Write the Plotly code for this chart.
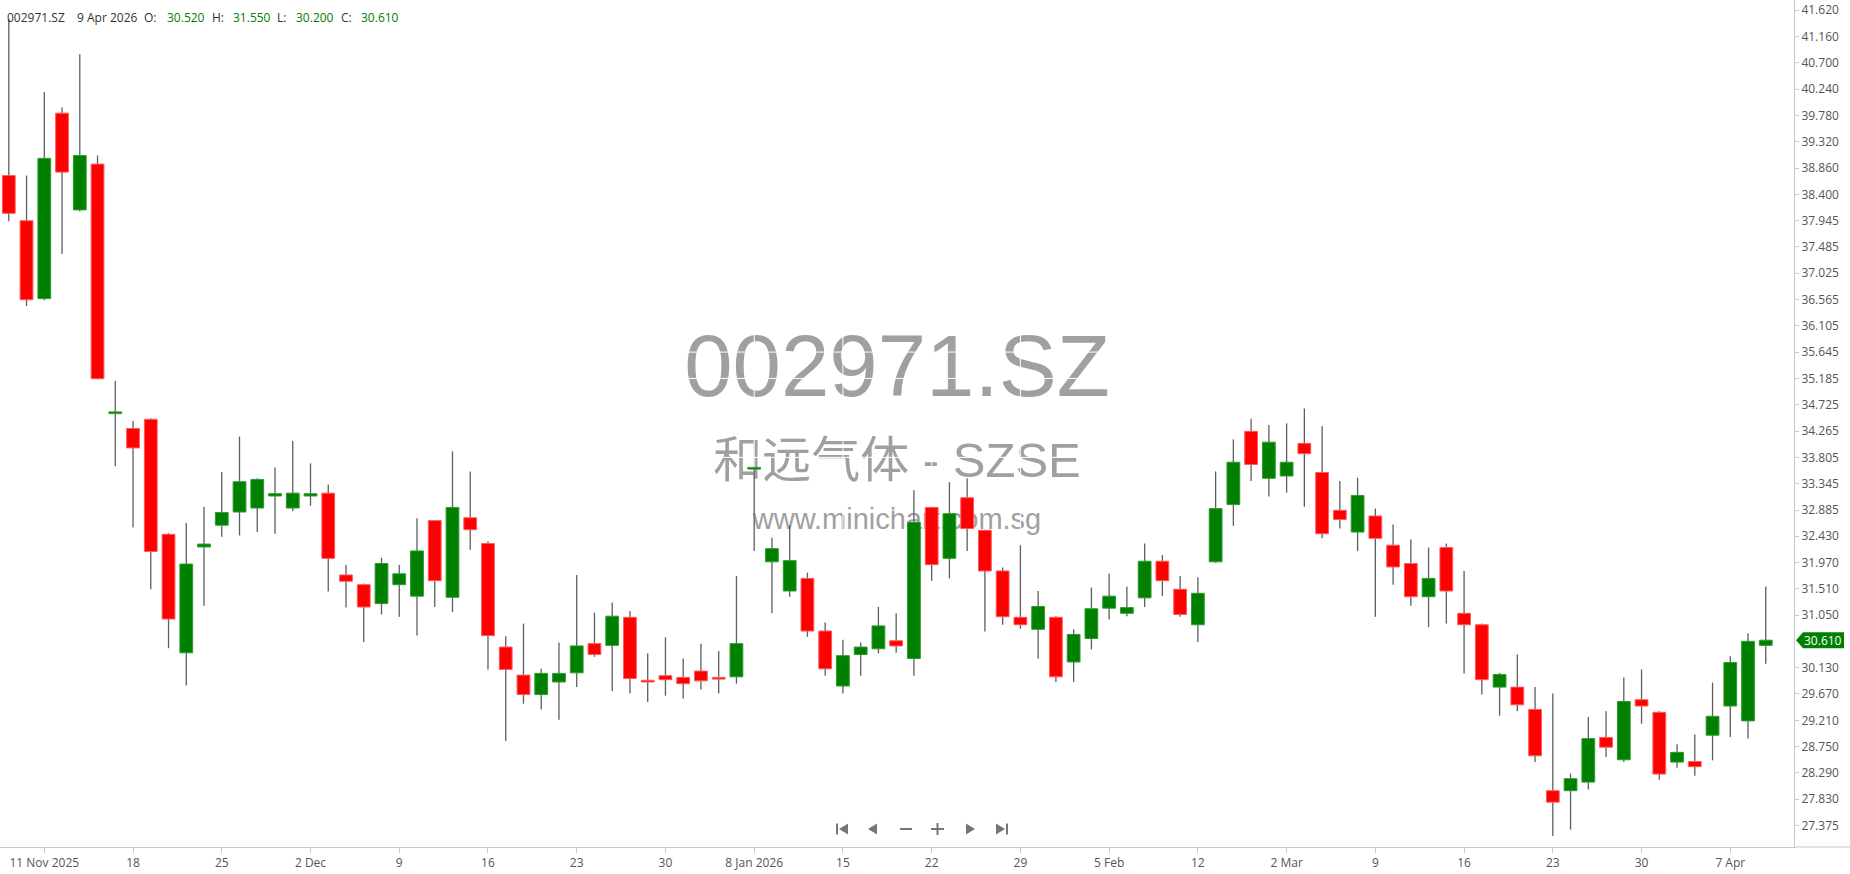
import plotly.graph_objects as go
import datetime as dt

# ---------------- data ----------------
dates = [
    "2025-11-07", "2025-11-10", "2025-11-11", "2025-11-12", "2025-11-13", "2025-11-14",
    "2025-11-17", "2025-11-18", "2025-11-19", "2025-11-20", "2025-11-21", "2025-11-24",
    "2025-11-25", "2025-11-26", "2025-11-27", "2025-11-28", "2025-12-01", "2025-12-02",
    "2025-12-03", "2025-12-04", "2025-12-05", "2025-12-08", "2025-12-09", "2025-12-10",
    "2025-12-11", "2025-12-12", "2025-12-15", "2025-12-16", "2025-12-17", "2025-12-18",
    "2025-12-19", "2025-12-22", "2025-12-23", "2025-12-24", "2025-12-25", "2025-12-26",
    "2025-12-29", "2025-12-30", "2025-12-31", "2026-01-05", "2026-01-06", "2026-01-07",
    "2026-01-08", "2026-01-09", "2026-01-12", "2026-01-13", "2026-01-14", "2026-01-15",
    "2026-01-16", "2026-01-19", "2026-01-20", "2026-01-21", "2026-01-22", "2026-01-23",
    "2026-01-26", "2026-01-27", "2026-01-28", "2026-01-29", "2026-01-30", "2026-02-02",
    "2026-02-03", "2026-02-04", "2026-02-05", "2026-02-06", "2026-02-09", "2026-02-10",
    "2026-02-11", "2026-02-12", "2026-02-13", "2026-02-25", "2026-02-26", "2026-02-27",
    "2026-03-02", "2026-03-03", "2026-03-04", "2026-03-05", "2026-03-06", "2026-03-09",
    "2026-03-10", "2026-03-11", "2026-03-12", "2026-03-13", "2026-03-16", "2026-03-17",
    "2026-03-18", "2026-03-19", "2026-03-20", "2026-03-23", "2026-03-24", "2026-03-25",
    "2026-03-26", "2026-03-27", "2026-03-30", "2026-03-31", "2026-04-01", "2026-04-02",
    "2026-04-03", "2026-04-07", "2026-04-08", "2026-04-09",
]

opens = [
    38.73, 37.94, 36.58, 39.82, 38.13, 38.93, 34.57, 34.31, 34.47, 32.46,
    30.39, 32.24, 32.62, 32.85, 32.92, 33.13, 32.92, 33.13, 33.18, 31.75,
    31.58, 31.25, 31.58, 31.38, 32.70, 31.36, 32.75, 32.30, 30.49, 30.00,
    29.66, 29.88, 30.04, 30.55, 30.52, 31.01, 29.91, 29.99, 29.96, 30.07,
    29.96, 29.97, 33.60, 31.98, 31.47, 31.69, 30.77, 29.81, 30.36, 30.46,
    30.60, 30.29, 32.93, 32.04, 33.10, 32.53, 31.82, 31.01, 30.80, 31.01,
    30.23, 30.64, 31.17, 31.08, 31.35, 31.99, 31.50, 30.88, 31.98, 32.98,
    34.26, 33.44, 33.48, 34.05, 33.54, 32.88, 32.50, 32.78, 32.27, 31.95,
    31.37, 32.23, 31.08, 30.88, 29.79, 29.79, 29.40, 27.98, 27.98, 28.13,
    28.91, 28.52, 29.57, 29.35, 28.48, 28.49, 28.95, 29.46, 29.20, 30.52,
]
highs = [
    41.47, 38.73, 40.19, 39.92, 40.85, 39.08, 35.14, 34.44, 34.49, 32.48,
    32.66, 32.94, 33.55, 34.17, 33.44, 33.63, 34.09, 33.70, 33.33, 31.93,
    31.60, 32.05, 31.93, 32.74, 32.71, 33.91, 33.56, 32.34, 30.68, 30.90,
    30.11, 30.57, 31.75, 31.09, 31.27, 31.12, 30.38, 30.66, 30.29, 30.55,
    30.42, 31.73, 33.63, 32.40, 32.62, 31.79, 30.92, 30.62, 30.57, 31.19,
    31.08, 33.23, 32.94, 33.37, 33.44, 32.54, 31.88, 32.27, 31.47, 31.03,
    30.80, 31.53, 31.77, 31.55, 32.30, 32.10, 31.73, 31.71, 33.56, 34.12,
    34.48, 34.37, 34.40, 34.66, 34.35, 33.39, 33.45, 32.91, 32.63, 32.37,
    32.23, 32.30, 31.82, 30.90, 30.04, 30.36, 29.79, 29.68, 28.28, 29.27,
    29.37, 29.96, 30.10, 29.37, 28.79, 28.96, 29.87, 30.33, 30.73, 31.55,
]
lows = [
    37.93, 36.45, 36.55, 37.36, 38.10, 35.17, 33.65, 32.58, 31.50, 30.47,
    29.82, 31.21, 32.42, 32.44, 32.50, 32.47, 32.87, 32.96, 31.46, 31.18,
    30.58, 31.06, 31.02, 30.69, 31.19, 31.10, 32.19, 30.10, 28.85, 29.50,
    29.40, 29.22, 29.79, 30.32, 29.72, 29.68, 29.53, 29.64, 29.59, 29.75,
    29.68, 29.85, 32.17, 31.08, 31.37, 30.67, 29.99, 29.68, 29.99, 30.38,
    30.39, 29.99, 31.65, 31.69, 32.17, 30.76, 30.88, 30.81, 30.29, 29.88,
    29.88, 30.45, 30.97, 31.03, 31.19, 31.38, 31.02, 30.58, 31.96, 32.61,
    33.39, 33.12, 33.19, 32.94, 32.39, 32.56, 32.17, 31.02, 31.58, 31.21,
    30.84, 30.90, 30.03, 29.66, 29.29, 29.37, 28.48, 27.19, 27.30, 28.00,
    28.57, 28.48, 29.15, 28.17, 28.38, 28.24, 28.51, 28.92, 28.89, 30.20,
]
closes = [
    38.07, 36.56, 39.03, 38.79, 39.08, 35.18, 34.60, 33.97, 32.16, 30.98,
    31.94, 32.29, 32.84, 33.38, 33.42, 33.17, 33.18, 33.17, 32.04, 31.64,
    31.19, 31.95, 31.77, 32.17, 31.65, 32.93, 32.54, 30.69, 30.10, 29.66,
    30.03, 30.03, 30.51, 30.36, 31.03, 29.94, 29.88, 29.92, 29.85, 29.90,
    29.93, 30.55, 33.63, 32.21, 32.00, 30.77, 30.11, 30.34, 30.49, 30.86,
    30.51, 32.67, 31.93, 32.82, 32.56, 31.82, 31.02, 30.88, 31.20, 29.97,
    30.71, 31.16, 31.38, 31.18, 31.99, 31.65, 31.06, 31.43, 32.91, 33.72,
    33.68, 34.07, 33.72, 33.87, 32.47, 32.72, 33.14, 32.39, 31.89, 31.37,
    31.69, 31.47, 30.88, 29.92, 30.01, 29.48, 28.59, 27.78, 28.19, 28.89,
    28.74, 29.54, 29.46, 28.27, 28.65, 28.40, 29.28, 30.22, 30.59, 30.61,
]

tick_dates = [
    "2025-11-11", "2025-11-18", "2025-11-25", "2025-12-02", "2025-12-09",
    "2025-12-16", "2025-12-23", "2025-12-30", "2026-01-08", "2026-01-15",
    "2026-01-22", "2026-01-29", "2026-02-05", "2026-02-12", "2026-03-02",
    "2026-03-09", "2026-03-16", "2026-03-23", "2026-03-30", "2026-04-07",
]
tick_texts = [
    "11 Nov 2025", "18", "25", "2 Dec", "9", "16", "23", "30", "8 Jan 2026", "15",
    "22", "29", "5 Feb", "12", "2 Mar", "9", "16", "23", "30", "7 Apr",
]
price_ticks = [
    41.620, 41.160, 40.700, 40.240, 39.780, 39.320, 38.860, 38.400, 37.945, 37.485,
    37.025, 36.565, 36.105, 35.645, 35.185, 34.725, 34.265, 33.805, 33.345, 32.885,
    32.430, 31.970, 31.510, 31.050, 30.130, 29.670, 29.210, 28.750, 28.290, 27.830,
    27.375,
]

symbol = "002971.SZ"
company = "和远气体 - SZSE"
website = "www.minichart.com.sg"

# ---------------- styling ----------------
UP = "#008000"
DOWN = "#ff0000"
WICK = "#5e5e5e"
AXIS = "#c8c8c8"
LABEL = "#555555"
FONT = "Open Sans, Noto Sans, sans-serif"

W, H = 1850, 874
ML, MR, MT, MB = 0, 56, 0, 27
PW, PH = W - ML - MR, H - MT - MB
X_RANGE = [-0.496, 100.59]
Y_RANGE = [26.996, 41.798]
HALF = 0.36

n = len(dates)
idx = list(range(n))
tick_idx = [dates.index(d) for d in tick_dates]


def px2x(p):
    return X_RANGE[0] + p / PW * (X_RANGE[1] - X_RANGE[0])


def py2y(p):
    return Y_RANGE[1] - p / PH * (Y_RANGE[1] - Y_RANGE[0])


def ppx(p):
    return p / PW


def ppy(p):
    return (PH - p) / PH


fig = go.Figure()

# watermark (below candles)
wm_x = px2x(PW / 2)
for txt, ypix, size, fam in [
    (symbol, 374, 87, "Liberation Sans, Arial, sans-serif"),
    (company, 465, 49, "Liberation Sans, Noto Sans CJK SC, sans-serif"),
    (website, 522, 29, "Liberation Sans, Arial, sans-serif"),
]:
    fig.add_trace(go.Scatter(
        x=[wm_x], y=[py2y(ypix)], mode="text", text=[txt],
        textposition="middle center",
        textfont=dict(size=size, color="#a0a0a0", family=fam),
        hoverinfo="skip", showlegend=False, cliponaxis=False,
    ))

# white grid lines drawn over the watermark
gx, gy = [], []
for p in price_ticks:
    gx += [X_RANGE[0], X_RANGE[1], None]
    gy += [p, p, None]
for t in tick_idx:
    gx += [t, t, None]
    gy += [Y_RANGE[0], Y_RANGE[1], None]
fig.add_trace(go.Scatter(x=gx, y=gy, mode="lines", line=dict(color="white", width=1),
                         hoverinfo="skip", showlegend=False))

# wicks
wx, wy = [], []
for i in idx:
    top = max(opens[i], closes[i])
    bot = min(opens[i], closes[i])
    wx += [i, i, None, i, i, None]
    wy += [highs[i], top, None, bot, lows[i], None]
fig.add_trace(go.Scatter(x=wx, y=wy, mode="lines", line=dict(color=WICK, width=1.3),
                         hoverinfo="skip", showlegend=False))

# bodies
for up, col, edge in [(True, UP, "#2f9a2f"), (False, DOWN, "#ff5a5a")]:
    bx, by = [], []
    for i in idx:
        if (closes[i] >= opens[i]) != up:
            continue
        o, c = opens[i], closes[i]
        bx += [i - HALF, i + HALF, i + HALF, i - HALF, i - HALF, None]
        by += [o, o, c, c, o, None]
    fig.add_trace(go.Scatter(x=bx, y=by, mode="lines", fill="toself", fillcolor=col,
                             line=dict(color=edge, width=1),
                             hoverinfo="skip", showlegend=False))

# header
last = n - 1
d_last = dt.date.fromisoformat(dates[last])
header = [
    (symbol, 7, "#333333"),
    (f"{d_last.day} {d_last.strftime('%b %Y')}", 77, "#333333"),
    ("O:", 144, "#333333"), (f"{opens[last]:.3f}", 167, UP),
    ("H:", 212, "#333333"), (f"{highs[last]:.3f}", 233, UP),
    ("L:", 277, "#333333"), (f"{lows[last]:.3f}", 296, UP),
    ("C:", 341, "#333333"), (f"{closes[last]:.3f}", 361, UP),
]
annotations = []
for txt, xp, col in header:
    annotations.append(dict(
        x=ppx(xp - 2), y=ppy(18), xref="paper", yref="paper", text=txt,
        showarrow=False, xanchor="left", yanchor="middle",
        font=dict(size=12, color=col, family=FONT),
    ))

# last price badge
cy = closes[last]
hp = 8 / PH * (Y_RANGE[1] - Y_RANGE[0])
x0 = 1 + 2 / PW
x1 = 1 + 9 / PW
x2 = 1 + 50 / PW
shapes = [
    dict(type="path", xref="paper", yref="y",
         path=f"M {x0} {cy} L {x1} {cy + hp} L {x2} {cy + hp} L {x2} {cy - hp} L {x1} {cy - hp} Z",
         fillcolor=UP, line=dict(width=0), layer="above"),
    dict(type="line", xref="paper", yref="paper", x0=1, x1=W / PW, y0=0, y1=0,
         line=dict(color=AXIS, width=1)),
]
annotations.append(dict(
    x=1 + 29 / PW, y=cy, xref="paper", yref="y", text=f"{cy:.3f}",
    showarrow=False, xanchor="center", yanchor="middle",
    font=dict(size=12, color="white", family=FONT),
))

# navigation controls
NAV = "#757575"
ny = 829


def tri(xl, xr, pointing_left):
    if pointing_left:
        pts = [(xl, ny), (xr, ny - 5.5), (xr, ny + 5.5)]
    else:
        pts = [(xr, ny), (xl, ny - 5.5), (xl, ny + 5.5)]
    path = "M " + " L ".join(f"{ppx(a)} {ppy(b)}" for a, b in pts) + " Z"
    return dict(type="path", xref="paper", yref="paper", path=path,
                fillcolor=NAV, line=dict(width=0))


def seg(xa, ya, xb, yb, w=2):
    return dict(type="line", xref="paper", yref="paper", x0=ppx(xa), y0=ppy(ya),
                x1=ppx(xb), y1=ppy(yb), line=dict(color=NAV, width=w))


shapes += [
    seg(837, ny - 5.5, 837, ny + 5.5), tri(839, 848, True),
    tri(868, 877, True),
    seg(900, ny, 912, ny),
    seg(931, ny, 944, ny), seg(937.5, ny - 6, 937.5, ny + 6),
    tri(966, 975, False),
    tri(996, 1005, False), seg(1007, ny - 5.5, 1007, ny + 5.5),
]

fig.update_layout(
    width=W, height=H,
    margin=dict(l=ML, r=MR, t=MT, b=MB, pad=0),
    paper_bgcolor="white", plot_bgcolor="white",
    showlegend=False,
    xaxis=dict(
        range=X_RANGE, tickmode="array", tickvals=tick_idx, ticktext=tick_texts,
        ticks="outside", ticklen=5, tickcolor=AXIS, showline=True, linecolor=AXIS,
        showgrid=False, zeroline=False, fixedrange=True,
        tickfont=dict(size=12, color=LABEL, family=FONT),
    ),
    yaxis=dict(
        range=Y_RANGE, side="right", tickmode="array", tickvals=price_ticks,
        ticktext=[f"{p:.3f}" for p in price_ticks],
        ticks="outside", ticklen=4, tickcolor=AXIS, showline=True, linecolor=AXIS,
        showgrid=False, zeroline=False, fixedrange=True,
        tickfont=dict(size=12, color=LABEL, family=FONT),
    ),
    shapes=shapes,
    annotations=annotations,
)

fig.write_html(
    "out.html",
    config={"displayModeBar": False},
    post_script="document.body.style.margin='0';document.body.style.overflow='hidden';",
)
